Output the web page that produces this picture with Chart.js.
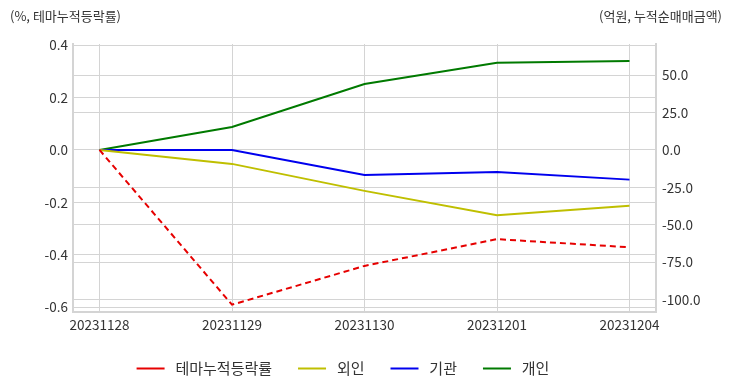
<!DOCTYPE html>
<html>
<head>
<meta charset="utf-8">
<script src="https://cdn.jsdelivr.net/npm/chart.js@4/dist/chart.umd.min.js"></script>
<style>
  html, body { margin: 0; padding: 0; background: #fff; }
  #wrap { width: 732px; height: 392px; }
</style>
</head>
<body>
<div id="wrap"><canvas id="c" width="732" height="392"></canvas></div>
<script>
const dates = ["20231128", "20231129", "20231130", "20231201", "20231204"];
const themeRate = [0, -0.59, -0.442, -0.34, -0.371];
const foreign = [0, -9.3, -27.3, -43.6, -37.3];
const institution = [0, 0, -16.7, -14.7, -19.8];
const individual = [0, 15.3, 44.0, 58.2, 59.3];
const leftTicks = [0.4, 0.2, 0.0, -0.2, -0.4, -0.6];
const rightTicks = [50, 25, 0, -25, -50, -75, -100];

const FONT = "'Noto Sans CJK KR', 'Noto Sans', sans-serif";
const GRID = "#d4d4d4";
const TICK_FONT = { family: FONT, size: 13.5 };

const toPoints = (arr) => arr.map((v, i) => ({ x: i, y: v }));

const cornerTitles = {
  id: "cornerTitles",
  afterLayout(chart) {
    // legend sits a bit left of centre in the original
    chart.legend.left -= 8;
    chart.legend.right -= 8;
  },
  afterDraw(chart) {
    const ctx = chart.ctx;
    ctx.save();
    ctx.font = "13px " + FONT;
    ctx.fillStyle = "#333";
    ctx.textBaseline = "middle";
    ctx.textAlign = "left";
    ctx.fillText("(%, 테마누적등락률)", 10, 16);
    ctx.textAlign = "right";
    ctx.fillText("(억원, 누적순매매금액)", 722, 16);
    ctx.restore();
  },
};

new Chart(document.getElementById("c"), {
  type: "line",
  data: {
    datasets: [
      {
        label: "테마누적등락률",
        data: toPoints(themeRate),
        yAxisID: "y",
        borderColor: "#e60000",
        borderDash: [6, 4],
        borderWidth: 2,
      },
      {
        label: "외인",
        data: toPoints(foreign),
        yAxisID: "y1",
        borderColor: "#bfbf00",
        borderWidth: 2,
      },
      {
        label: "기관",
        data: toPoints(institution),
        yAxisID: "y1",
        borderColor: "#0000ee",
        borderWidth: 2,
      },
      {
        label: "개인",
        data: toPoints(individual),
        yAxisID: "y1",
        borderColor: "#007a00",
        borderWidth: 2,
      },
    ],
  },
  options: {
    responsive: false,
    animation: false,
    elements: { line: { tension: 0 }, point: { radius: 0 } },
    layout: { padding: { top: 44, left: 0, right: 30, bottom: 6 } },
    plugins: {
      legend: {
        position: "bottom",
        labels: {
          usePointStyle: true,
          pointStyle: "line",
          pointStyleWidth: 28,
          padding: 26,
          color: "#333",
          font: { family: FONT, size: 15 },
          generateLabels: (chart) => {
            const items = Chart.defaults.plugins.legend.labels.generateLabels(chart);
            items.forEach((it) => { it.text = " " + it.text; });
            return items;
          },
        },
      },
      tooltip: { enabled: false },
    },
    scales: {
      x: {
        type: "linear",
        min: -0.2,
        max: 4.2,
        afterBuildTicks: (scale) => {
          scale.ticks = dates.map((_, i) => ({ value: i }));
        },
        afterFit: (scale) => {
          scale.height -= 3;
        },
        ticks: {
          color: "#333",
          font: TICK_FONT,
          maxRotation: 0,
          padding: 5,
          callback: (val) => dates[val],
        },
        grid: { color: GRID, drawTicks: false },
        border: { color: GRID, width: 2 },
      },
      y: {
        position: "left",
        min: -0.617,
        max: 0.404,
        afterBuildTicks: (scale) => {
          scale.ticks = leftTicks.map((v) => ({ value: v }));
        },
        afterFit: (scale) => {
          scale.width = 73;
        },
        ticks: {
          color: "#333",
          font: TICK_FONT,
          padding: 5,
          callback: (val) => val.toFixed(1),
        },
        grid: { color: GRID, drawTicks: false },
        border: { color: GRID, width: 2 },
      },
      y1: {
        position: "right",
        min: -108,
        max: 70.7,
        afterBuildTicks: (scale) => {
          scale.ticks = rightTicks.map((v) => ({ value: v }));
        },
        afterFit: (scale) => {
          scale.width = 46;
        },
        ticks: {
          color: "#333",
          font: TICK_FONT,
          padding: 6,
          callback: (val) => val.toFixed(1),
        },
        grid: { color: GRID, drawTicks: false },
        border: { color: GRID, width: 2 },
      },
    },
  },
  plugins: [cornerTitles],
});
</script>
</body>
</html>
